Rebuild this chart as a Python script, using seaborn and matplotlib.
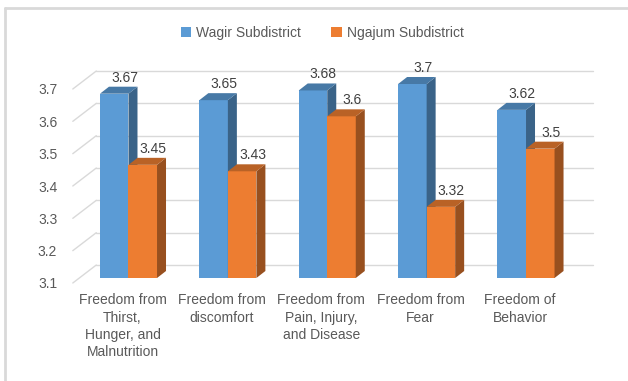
import numpy as np
import pandas as pd
import seaborn as sns
import matplotlib.pyplot as plt
from matplotlib.transforms import ScaledTranslation
from matplotlib.patches import Polygon, Patch
from matplotlib.lines import Line2D
import matplotlib.colors as mcolors

# ---- data ----
categories = ["Freedom from\nThirst,\nHunger, and\nMalnutrition",
              "Freedom from\ndiscomfort",
              "Freedom from\nPain, Injury,\nand Disease",
              "Freedom from\nFear",
              "Freedom of\nBehavior"]
series = ["Wagir Subdistrict", "Ngajum Subdistrict"]
wagir = [3.67, 3.65, 3.68, 3.70, 3.62]
ngajum = [3.45, 3.43, 3.60, 3.32, 3.50]
yticks = [3.1, 3.2, 3.3, 3.4, 3.5, 3.6, 3.7]
colors = ["#5B9BD5", "#ED7D31"]

df = pd.DataFrame({
    "category": categories * 2,
    "series": [series[0]] * len(categories) + [series[1]] * len(categories),
    "value": wagir + ngajum,
})

sns.set_theme(style="white")
plt.rcParams['font.family'] = ['Liberation Sans', 'DejaVu Sans']

DPI = 100
W, H = 628, 381
fig = plt.figure(figsize=(W / DPI, H / DPI), dpi=DPI)
fig.patch.set_facecolor("white")


def px(x0, y0, x1, y1):
    return [x0 / W, 1 - y1 / H, (x1 - x0) / W, (y1 - y0) / H]


ax = fig.add_axes(px(78.8, 84, 575.7, 278))
ax.patch.set_alpha(0)

sns.barplot(data=df, x="category", y="value", hue="series", palette=colors,
            width=0.574, gap=0, saturation=1, ax=ax, legend=False,
            errorbar=None, linewidth=0)
ax.set_xlim(-0.5, len(categories) - 0.5)
ax.set_ylim(yticks[0], yticks[-1])
for s in ax.spines.values():
    s.set_visible(False)
ax.set_xlabel("")
ax.set_ylabel("")

# pixel -> data conversion
x_per_px = (len(categories)) / (575.7 - 78.8)
y_per_px = (yticks[-1] - yticks[0]) / (278 - 84)

grid_c = "#d9d9d9"
back_dx, back_dy = 17.5 * x_per_px, 13 * y_per_px
front_dx, front_dy = -6 * x_per_px, -5 * y_per_px
x_left = -0.5
x_right = len(categories) - 0.5
for t in yticks:
    ax.plot([x_left + back_dx, x_right + back_dx], [t + back_dy, t + back_dy],
            color=grid_c, lw=1, zorder=0.5, clip_on=False)
    ax.plot([x_left + front_dx, x_left + back_dx], [t + front_dy, t + back_dy],
            color=grid_c, lw=1, zorder=0.5, clip_on=False)

# 3D faces
ddx, ddy = 9 * x_per_px, 7 * y_per_px
bottom = yticks[0]
for i, cont in enumerate(ax.containers):
    base = np.array(mcolors.to_rgb(colors[i]))
    top_c = base * 0.78
    side_c = base * 0.64
    z = 2 + i
    for p in cont.patches:
        p.set_zorder(z)
        x0, w = p.get_x(), p.get_width()
        h = p.get_y() + p.get_height()
        side = Polygon([(x0 + w, bottom), (x0 + w, h), (x0 + w + ddx, h + ddy),
                        (x0 + w + ddx, bottom + ddy)], closed=True,
                       facecolor=side_c, edgecolor="none", zorder=z + 0.1,
                       clip_on=False)
        top = Polygon([(x0, h), (x0 + w, h), (x0 + w + ddx, h + ddy),
                       (x0 + ddx, h + ddy)], closed=True,
                      facecolor=top_c, edgecolor="none", zorder=z + 0.1,
                      clip_on=False)
        ax.add_patch(side)
        ax.add_patch(top)
        ax.annotate(f"{h:g}", (x0 + w / 2, h), xytext=(7.5, 11.5),
                    textcoords="offset points", ha="center", va="center",
                    fontsize=10, color="#404040", zorder=10,
                    annotation_clip=False)

# ticks
ax.set_yticks(yticks)
ax.set_yticklabels([f"{t:g}" for t in yticks])
ax.tick_params(axis="y", length=0, pad=15.5, labelsize=10, labelcolor="#595959")
ax.tick_params(axis="x", length=0, pad=11, labelsize=10, labelcolor="#595959")
for lab in ax.get_yticklabels():
    lab.set_transform(lab.get_transform() + ScaledTranslation(0, -5 / DPI, fig.dpi_scale_trans))
for lab in ax.get_xticklabels():
    lab.set_linespacing(1.3)
    lab.set_transform(lab.get_transform() + ScaledTranslation(-6 / DPI, 0, fig.dpi_scale_trans))

# legend
handles = [Patch(facecolor=c, edgecolor="none", label=s) for c, s in zip(colors, series)]
leg = fig.legend(handles=handles, loc="center", bbox_to_anchor=(322 / W, 1 - 33 / H),
                 ncol=2, frameon=False, handlelength=0.75, handleheight=0.75,
                 handletextpad=0.35, columnspacing=2.2, fontsize=10)
for t in leg.get_texts():
    t.set_color("#595959")

# outer border (left and top only)
fig.add_artist(Line2D([5 / W, 5 / W], [0, 1 - 8 / H], color="#d9d9d9", lw=2,
                      transform=fig.transFigure))
fig.add_artist(Line2D([5 / W, 1], [1 - 8 / H, 1 - 8 / H], color="#d9d9d9", lw=2,
                      transform=fig.transFigure))

fig.savefig("out.png", dpi=DPI, facecolor="white")
